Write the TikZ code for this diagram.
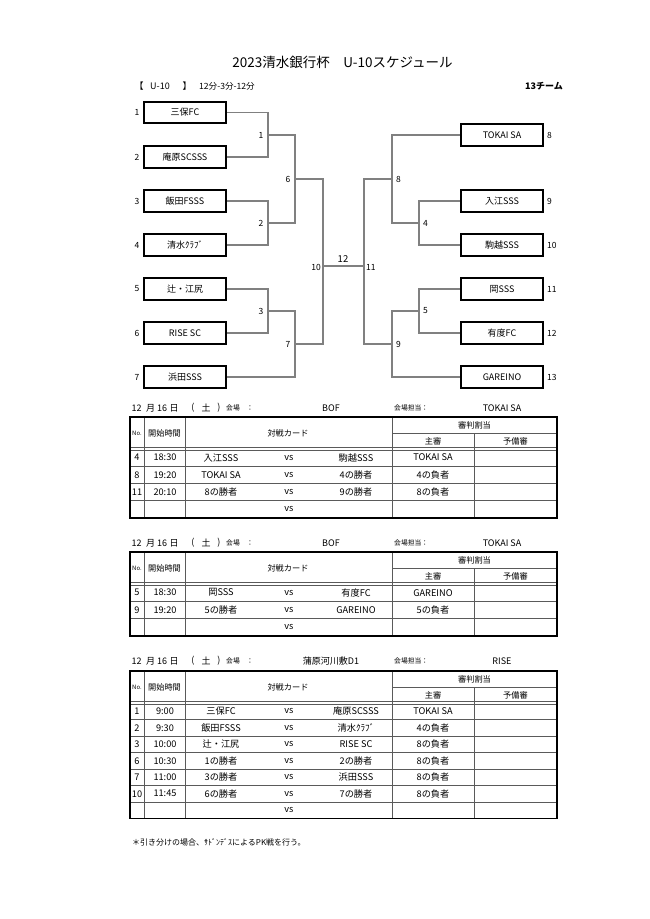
\documentclass[tikz,border=0pt]{standalone}
\usepackage{fontspec}
\setmainfont{Noto Sans CJK JP}
\newcommand\fs[1]{\fontsize{#1}{#1}\selectfont}
\definecolor{bracketgray}{HTML}{808080}
\definecolor{tablegray}{HTML}{5A5A5A}
\newcommand\schedhead[4]{%
 \node[hd] (#1h1) at (136.5,#2) {12};
 \node[hd] (#1h2) at (150.5,#2) {月};
 \node[hd] (#1h3) at (162,#2) {16};
 \node[hd] (#1h4) at (174,#2) {日};
 \node[hd] (#1h5) at (193,#2) {(};
 \node[hd] (#1h6) at (206,#2) {土};
 \node[hd] (#1h7) at (219,#2) {)};
 \node[sm,anchor=west] (#1h8) at (226,#2) {会場　：};
 \node[hd] (#1h9) at (331,#2) {#3};
 \node[sm,anchor=west] (#1h10) at (394,#2) {会場担当：};
 \node[hd] (#1h11) at (502,#2) {#4};
}
\newcommand\schedgrid[4]{%
 \pgfmathsetmacro\tT{#2}%
 \pgfmathsetmacro\tM{#2+16}%
 \pgfmathsetmacro\tH{#2+32}%
 \pgfmathsetmacro\tB{#2+32+#3*#4}%
 \pgfmathtruncatemacro\tN{#3-1}%
 \pgfmathsetmacro\tCa{#2+8}%
 \pgfmathsetmacro\tCb{#2+24}%
 \draw[inner] (144,\tT) -- (144,\tB) (185,\tT) -- (185,\tB) (392,\tT) -- (392,\tB)
   (474,\tM) -- (474,\tB) (392,\tM) -- (557,\tM);
 \foreach \r in {1,...,\tN} {\draw[inner] (130,\tH+\r*#4) -- (557,\tH+\r*#4);}
 \draw[inner] (130,\tH-1.3) -- (557,\tH-1.3);
 \draw[inner] (130,\tH+1.3) -- (557,\tH+1.3);
 \draw[outer] (130,\tT) rectangle (557,\tB);
 \node[hcell,font=\fs{6}] (#1c1) at (137,\tM) {No.};
 \node[hcell] (#1c2) at (164.5,\tM) {開始時間};
 \node[hcell] (#1c3) at (288,\tM) {対戦カード};
 \node[hcell] (#1c4) at (474.5,\tCa) {審判割当};
 \node[hcell] (#1c5) at (433,\tCb) {主審};
 \node[hcell] (#1c6) at (515.5,\tCb) {予備審};
}
\newcommand\schedrow[7]{%
 \node[cell] (#1n) at (137,#2) {#3};
 \node[cell] (#1t) at (165,#2) {#4};
 \node[cell] (#1a) at (221,#2) {#5};
 \node[cell] (#1v) at (289,#2) {vs};
 \node[cell] (#1b) at (356,#2) {#6};
 \node[cell] (#1r) at (433,#2) {#7};
}
\begin{document}
\begin{tikzpicture}[x=1pt,y=-1pt,
 team/.style={draw=black,line width=1.6pt,minimum width=82.5pt,minimum height=21.5pt,inner sep=0pt,font=\fs{9}},
 brk/.style={draw=bracketgray,line width=1.3pt},
 seed/.style={font=\fs{8.5},inner sep=0pt},
 mlab/.style={font=\fs{8.5},inner sep=0pt},
 cell/.style={font=\fs{9.2},inner sep=0pt},
 hcell/.style={font=\fs{8.2},inner sep=0pt},
 hd/.style={font=\fs{9},inner sep=0pt},
 sm/.style={font=\fs{6.8},inner sep=0pt},
 outer/.style={draw=black,line width=1.3pt},
 inner/.style={draw=tablegray,line width=0.8pt},
]
\fill[white] (0,0) rectangle (650,919);
\useasboundingbox (0,0) rectangle (650,919);

% title and header
\node[font=\fs{13.5},inner sep=0pt] (title) at (342.5,62) {2023清水銀行杯　U-10スケジュール};
\node[font=\fs{9},inner sep=0pt] (lbr) at (139,86) {【};
\node[font=\fs{9},inner sep=0pt,anchor=west] (u10) at (150,86) {U-10};
\node[font=\fs{9},inner sep=0pt] (rbr) at (187,86) {】};
\node[font=\fs{8.6},inner sep=0pt,anchor=west] (rule) at (199,86) {12分-3分-12分};
\node[font=\fs{9}\bfseries,inner sep=0pt,anchor=east] (teams) at (563,86) {13チーム};

% left teams
\node[team] (L1) at (185,112.5) {三保FC};
\node[team] (L2) at (185,157) {庵原SCSSS};
\node[team] (L3) at (185,201) {飯田FSSS};
\node[team] (L4) at (185,245) {清水ｸﾗﾌﾞ};
\node[team] (L5) at (185,289) {辻・江尻};
\node[team] (L6) at (185,333) {RISE SC};
\node[team] (L7) at (185,377) {浜田SSS};
\foreach \i/\yy in {1/112.5,2/157,3/201,4/245,5/289,6/333,7/377}
  \node[seed] (sl\i) at (137,\yy) {\i};

% right teams
\node[team] (R8) at (502,135) {TOKAI SA};
\node[team] (R9) at (502,201) {入江SSS};
\node[team] (R10) at (502,245) {駒越SSS};
\node[team] (R11) at (502,289) {岡SSS};
\node[team] (R12) at (502,333) {有度FC};
\node[team] (R13) at (502,377) {GAREINO};
\foreach \i/\yy in {8/135,9/201,10/245,11/289,12/333,13/377}
  \node[seed,anchor=west] (sr\i) at (547,\yy) {\i};

% junctions
\coordinate (j1) at (268,135);
\coordinate (j2) at (268,223);
\coordinate (j3) at (268,311);
\coordinate (j6) at (295,179);
\coordinate (j7) at (295,344);
\coordinate (j10) at (323,266);
\coordinate (j11) at (364,266);
\coordinate (j8) at (392,179);
\coordinate (j9) at (392,344);
\coordinate (j4) at (419,223);
\coordinate (j5) at (419,311);

\draw[brk] (L1.east) -| (j1) |- (L2.east);
\draw[brk] (L3.east) -| (j2) |- (L4.east);
\draw[brk] (L5.east) -| (j3) |- (L6.east);
\draw[brk] (j1) -| (j6) |- (j2);
\draw[brk] (j3) -| (j7) |- (L7.east);
\draw[brk] (j6) -| (j10) |- (j7);
\draw[brk] (j10) -- (j11);
\draw[brk] (j8) |- (j11 |- j8) -- (j11) |- (j9);
\draw[brk] (R8.west) -| (j8) |- (j4);
\draw[brk] (R9.west) -| (j4) |- (R10.west);
\draw[brk] (R11.west) -| (j5) |- (R12.west);
\draw[brk] (j5) -| (j9) |- (R13.west);

% match labels
\node[mlab] (m1) at (261,135) {1};
\node[mlab] (m2) at (261,223) {2};
\node[mlab] (m3) at (261,311) {3};
\node[mlab] (m6) at (288,179) {6};
\node[mlab] (m7) at (288,344) {7};
\node[mlab,anchor=east] (m10) at (321,267) {10};
\node[mlab,font=\fs{9.5}] (m12) at (343,259) {12};
\node[mlab,anchor=west] (m11) at (366,267) {11};
\node[mlab] (m8) at (398.5,179) {8};
\node[mlab] (m4) at (425.5,223) {4};
\node[mlab] (m5) at (425.5,311) {5};
\node[mlab] (m9) at (398.5,344) {9};

% table 1
\schedhead{ta}{408}{BOF}{TOKAI SA}
\schedgrid{ta}{417}{4}{17.25}
\schedrow{ta1}{457.6}{4}{18:30}{入江SSS}{駒越SSS}{TOKAI SA}
\schedrow{ta2}{474.9}{8}{19:20}{TOKAI SA}{4の勝者}{4の負者}
\schedrow{ta3}{492.1}{11}{20:10}{8の勝者}{9の勝者}{8の負者}
\node[cell] (ta4v) at (289,509.4) {vs};

% table 2
\schedhead{tb}{543}{BOF}{TOKAI SA}
\schedgrid{tb}{552}{3}{17.33}
\schedrow{tb1}{592.7}{5}{18:30}{岡SSS}{有度FC}{GAREINO}
\schedrow{tb2}{610}{9}{19:20}{5の勝者}{GAREINO}{5の負者}
\node[cell] (tb3v) at (289,627.3) {vs};

% table 3
\schedhead{tc}{661}{蒲原河川敷D1}{RISE}
\schedgrid{tc}{671}{7}{16.5}
\schedrow{tc1}{711.25}{1}{9:00}{三保FC}{庵原SCSSS}{TOKAI SA}
\schedrow{tc2}{727.75}{2}{9:30}{飯田FSSS}{清水ｸﾗﾌﾞ}{4の負者}
\schedrow{tc3}{744.25}{3}{10:00}{辻・江尻}{RISE SC}{8の負者}
\schedrow{tc4}{760.75}{6}{10:30}{1の勝者}{2の勝者}{8の負者}
\schedrow{tc5}{777.25}{7}{11:00}{3の勝者}{浜田SSS}{8の負者}
\schedrow{tc6}{793.75}{10}{11:45}{6の勝者}{7の勝者}{8の負者}
\node[cell] (tc7v) at (289,810.25) {vs};

% footnote
\node[font=\fs{8},inner sep=0pt,anchor=west] (note) at (132,842) {＊引き分けの場合、ｻﾄﾞﾝﾃﾞｽによるPK戦を行う。};
\end{tikzpicture}
\end{document}
